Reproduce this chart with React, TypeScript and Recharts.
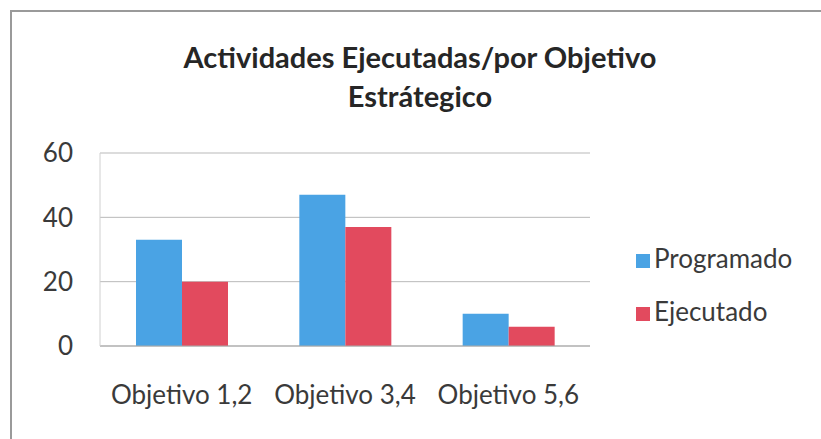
import React from 'react';
import { BarChart, Bar, XAxis, YAxis, CartesianGrid, Legend } from 'recharts';

const categories = ['Objetivo 1,2', 'Objetivo 3,4', 'Objetivo 5,6'];
const programado = [33, 47, 10];
const ejecutado = [20, 37, 6];
const yTicks = [0, 20, 40, 60];
const titleLines = ['Actividades Ejecutadas/por Objetivo', 'Estrátegico'];
const seriesOrder = ['Programado', 'Ejecutado'];

const data = categories.map((c, i) => ({ name: c, Programado: programado[i], Ejecutado: ejecutado[i] }));

const FONT = 'Lato, "Open Sans", sans-serif';

export default function App() {
  return (
    <div style={{ position: 'absolute', left: 0, top: 0, width: 821, height: 439, background: '#fff', overflow: 'hidden', fontFamily: FONT }}>
      <div style={{ position: 'absolute', left: 10, top: 10, width: 900, height: 500, borderLeft: '2px solid #9a9a9a', borderTop: '2px solid #9a9a9a' }} />
      <div style={{ position: 'absolute', left: 0, top: 37, width: 840, textAlign: 'center', fontSize: 29, lineHeight: '39px', fontWeight: 700, color: '#262626' }}>
        {titleLines.map((t) => (<div key={t}>{t}</div>))}
      </div>
      <BarChart width={821} height={439} data={data} margin={{ top: 153, right: 231, bottom: 0, left: 0 }} barGap={0} barSize={46}>
        <CartesianGrid horizontal={true} vertical={false} stroke="#b9b9b9" />
        <XAxis dataKey="name" height={93} tickSize={0} tickMargin={40} axisLine={{ stroke: '#a8a8a8' }} tickLine={false} tick={{ fill: '#3a3a3a', fontSize: 26, fontFamily: FONT }} />
        <YAxis width={100} domain={[0, 60]} ticks={yTicks} tickSize={0} tickMargin={27} axisLine={{ stroke: '#d0d0d0' }} tickLine={false} tick={{ fill: '#3a3a3a', fontSize: 26, fontFamily: FONT }} />
        <Legend layout="vertical" align="center" verticalAlign="middle" iconType="square" iconSize={14}
          itemSorter={(item: any) => seriesOrder.indexOf(item.value)}
          wrapperStyle={{ left: 636, top: 232, width: 185, lineHeight: '53px', fontSize: 26, fontFamily: FONT }}
          formatter={(v: string) => <span style={{ color: '#3a3a3a' }}>{v}</span>} />
        <Bar dataKey="Programado" fill="#4aa3e4" isAnimationActive={false} />
        <Bar dataKey="Ejecutado" fill="#e24a5e" isAnimationActive={false} />
      </BarChart>
    </div>
  );
}
